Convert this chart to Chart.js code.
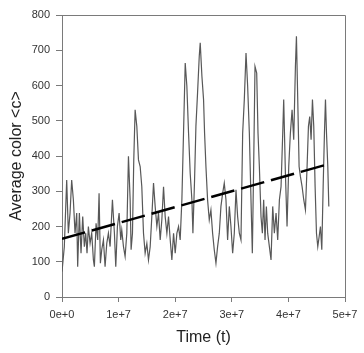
<!DOCTYPE html>
<html>
<head>
<meta charset="utf-8">
<script src="https://cdn.jsdelivr.net/npm/chart.js@4/dist/chart.umd.min.js"></script>
<style>
  html, body { margin: 0; padding: 0; background: #fff; }
  #wrap { width: 364px; height: 353px; }
</style>
</head>
<body>
<div id="wrap"><canvas id="chart" width="364" height="353"></canvas></div>
<script>
  // Time in millions of steps
  var timeM = [0, 0.41, 0.83, 1.12, 1.42, 1.71, 2.01, 2.30, 2.60, 2.77, 3.07, 3.36, 3.66, 3.95, 4.19, 4.42, 4.66, 4.96, 5.25, 5.55,
    5.72, 6.02, 6.31, 6.55, 6.78, 7.02, 7.32, 7.61, 7.91, 8.20, 8.50, 8.91, 9.26, 9.50, 9.79, 10.09, 10.38, 10.56, 10.86, 11.15,
    11.45, 11.74, 12.04, 12.21, 12.45, 12.68, 12.92, 13.22, 13.51, 13.81, 14.10, 14.40, 14.69, 14.99, 15.28, 15.58, 15.87, 16.17, 16.46, 16.76,
    17.05, 17.35, 17.64, 17.94, 18.23, 18.53, 18.82, 19.12, 19.41, 19.71, 20.00, 20.30, 20.59, 20.88, 21.18, 21.47, 21.77, 22.06, 22.36, 22.65,
    22.95, 23.13, 23.42, 23.66, 23.95, 24.25, 24.42, 24.72, 25.01, 25.19, 25.43, 25.72, 26.02, 26.31, 26.61, 26.90, 27.20, 27.49, 27.79, 28.08,
    28.38, 28.67, 28.97, 29.26, 29.56, 29.85, 30.15, 30.44, 30.74, 31.03, 31.33, 31.62, 31.92, 32.21, 32.51, 32.80, 33.10, 33.39, 33.63, 33.86,
    34.10, 34.40, 34.63, 34.87, 35.16, 35.40, 35.63, 35.87, 36.11, 36.34, 36.64, 36.93, 37.23, 37.52, 37.82, 38.11, 38.41, 38.70, 39.00, 39.17,
    39.47, 39.76, 40.06, 40.35, 40.65, 40.94, 41.24, 41.42, 41.65, 41.89, 42.12, 42.42, 42.71, 43.01, 43.30, 43.54, 43.77, 44.01, 44.25, 44.48,
    44.72, 44.96, 45.19, 45.43, 45.66, 45.90, 46.14, 46.37, 46.55, 46.73, 46.96, 47.14];

  var avgColor = [72, 143, 332, 181, 238, 332, 276, 181, 238, 86, 238, 124, 228, 143, 181, 124, 200, 152, 181, 105,
    86, 209, 162, 294, 96, 134, 162, 86, 152, 181, 143, 276, 181, 86, 200, 238, 162, 190, 143, 115,
    181, 399, 276, 134, 181, 389, 531, 484, 389, 370, 313, 181, 124, 152, 105, 143, 228, 323, 257, 200,
    238, 162, 219, 313, 228, 181, 228, 162, 105, 181, 124, 181, 200, 162, 276, 465, 664, 598, 465, 351,
    276, 181, 332, 484, 579, 683, 721, 626, 560, 465, 370, 276, 219, 247, 181, 134, 96, 143, 181, 257,
    294, 323, 276, 162, 257, 200, 124, 181, 304, 228, 181, 162, 465, 560, 692, 598, 465, 276, 124, 370,
    654, 635, 465, 370, 228, 181, 276, 162, 257, 181, 143, 105, 257, 181, 238, 162, 276, 313, 465, 560,
    351, 200, 370, 465, 531, 446, 654, 740, 560, 370, 342, 313, 276, 247, 370, 484, 512, 446, 560, 484,
    313, 181, 143, 171, 200, 134, 313, 465, 560, 465, 370, 257];

  // linear fit (dashed), end points
  var trendTimeM = [0, 47.3];
  var trendValue = [165, 378];

  var xTicks = [0, 1e7, 2e7, 3e7, 4e7, 5e7];
  var yTicks = [0, 100, 200, 300, 400, 500, 600, 700, 800];

  function pts(ts, vs) {
    return ts.map(function (t, i) { return { x: t * 1e6, y: vs[i] }; });
  }

  // top + right frame lines of the plot box
  var frame = {
    id: 'frame',
    afterDraw: function (chart) {
      var a = chart.chartArea, ctx = chart.ctx;
      ctx.save();
      ctx.strokeStyle = '#7a7a7a';
      ctx.lineWidth = 1;
      ctx.beginPath();
      ctx.moveTo(a.left, a.top + 0.5);
      ctx.lineTo(a.right + 0.5, a.top + 0.5);
      ctx.lineTo(a.right + 0.5, a.bottom);
      ctx.stroke();
      ctx.restore();
    }
  };

  var tickFont = { family: 'Arial, "Liberation Sans", sans-serif', size: 11 };
  var titleFont = { family: 'Arial, "Liberation Sans", sans-serif', size: 16 };

  new Chart(document.getElementById('chart'), {
    type: 'scatter',
    data: {
      datasets: [
        {
          label: 'fit',
          data: pts(trendTimeM, trendValue),
          showLine: true,
          borderColor: '#000',
          borderWidth: 2.5,
          borderDash: [24, 7],
          pointRadius: 0,
          order: 0
        },
        {
          label: 'c',
          data: pts(timeM, avgColor),
          showLine: true,
          borderColor: '#585858',
          borderWidth: 1.2,
          pointRadius: 0,
          tension: 0,
          order: 1
        }
      ]
    },
    options: {
      responsive: false,
      animation: false,
      layout: { padding: { top: 15, right: 19, left: 0, bottom: 0 } },
      plugins: { legend: { display: false }, tooltip: { enabled: false } },
      scales: {
        x: {
          type: 'linear',
          min: 0,
          max: 5e7,
          afterBuildTicks: function (s) { s.ticks = xTicks.map(function (v) { return { value: v }; }); },
          afterFit: function (s) { s.height = 56; },
          grid: { drawOnChartArea: false, tickLength: 5, color: '#7a7a7a' },
          border: { color: '#7a7a7a' },
          ticks: {
            color: '#333',
            font: tickFont,
            padding: 6,
            maxRotation: 0,
            callback: function (v) { return Number(v).toExponential(0); }
          },
          title: { display: true, text: 'Time (t)', color: '#222', font: titleFont, padding: { top: 0, bottom: 6 } }
        },
        y: {
          min: 0,
          max: 800,
          afterBuildTicks: function (s) { s.ticks = yTicks.map(function (v) { return { value: v }; }); },
          afterFit: function (s) { s.width = 62; },
          grid: { drawOnChartArea: false, tickLength: 6, color: '#7a7a7a' },
          border: { color: '#7a7a7a' },
          ticks: { color: '#333', font: tickFont, padding: 6 },
          title: { display: true, text: 'Average color <c>', color: '#222', font: titleFont, padding: { top: 7, bottom: 0 } }
        }
      }
    },
    plugins: [frame]
  });
</script>
</body>
</html>
